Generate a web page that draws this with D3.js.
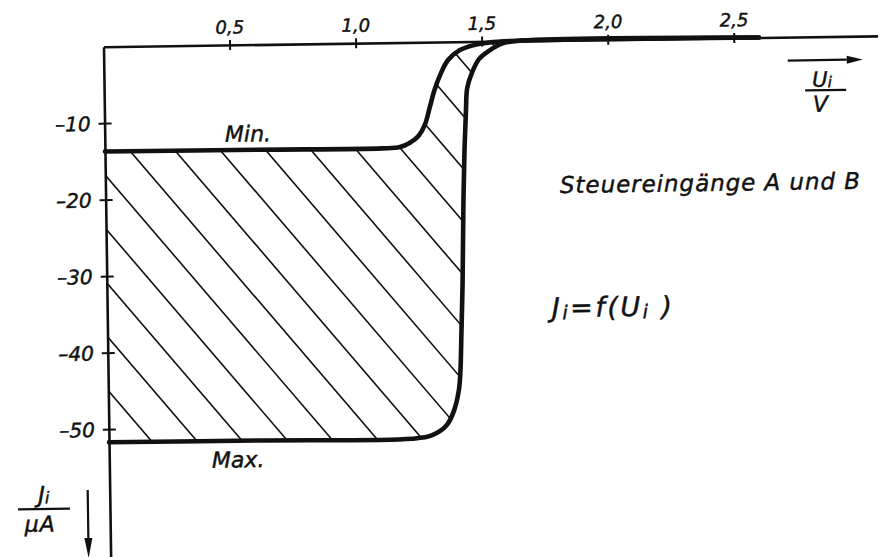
<!DOCTYPE html>
<html>
<head>
<meta charset="utf-8">
<script src="https://cdn.jsdelivr.net/npm/d3@7"></script>
<style>
  html, body { margin: 0; padding: 0; background: #fff; }
  svg { display: block; }
  text { font-family: "DejaVu Sans", sans-serif; font-style: oblique; fill: #111; stroke: #111; stroke-width: 0.45px; }
</style>
</head>
<body>
<svg id="chart" width="888" height="557"></svg>
<script>
// Input current I_i = f(U_i) of control inputs A and B: band between Min. and Max. curves
const minVoltage = [0, 0.6, 1.1, 1.17, 1.21, 1.245, 1.27, 1.29, 1.31, 1.335, 1.365, 1.41, 1.465, 1.53, 1.62, 2.6];
const minCurrent = [-13.7, -13.75, -13.8, -13.65, -13.1, -12.2, -10.8, -8.6, -6.3, -4.2, -2.4, -1.15, -0.5, -0.15, 0, 0];

const maxVoltage = [0, 0.6, 1.2, 1.28, 1.34, 1.37, 1.39, 1.397, 1.404, 1.411, 1.419, 1.426, 1.434, 1.44, 1.46, 1.49, 1.53, 1.58, 1.64, 2.6];
const maxCurrent = [-51.7, -51.75, -51.8, -51.4, -50.1, -48.2, -45.6, -43.4, -37.8, -31.6, -20.8, -14.2, -9.0, -6.1, -4.05, -2.24, -1.21, -0.33, 0, 0];

const xTickValues = [0.5, 1.0, 1.5, 2.0, 2.5];
const yTickValues = [-10, -20, -30, -40, -50];

const labelMin = "Min.";
const labelMax = "Max.";
const titleText = "Steuereingänge A und B";

const ink = "#111";
const svg = d3.select("#chart");
svg.append("rect").attr("width", 888).attr("height", 557).attr("fill", "#fff");

// the sheet sits slightly turned; the whole drawing is laid out in its own frame
const g = svg.append("g").attr("transform", "translate(103.5,46.7) rotate(-0.8)");

const x = d3.scaleLinear().domain([0, 3.07]).range([0, 774]);
const y = d3.scaleLinear().domain([0, -67]).range([0, 512.6]);

const de = d3.formatLocale({ decimal: ",", thousands: ".", grouping: [3], currency: ["", " €"], minus: "–" });
const fx = de.format(".1f");
const fy = de.format("d");

const minPts = minVoltage.map((v, i) => [x(v), y(minCurrent[i])]);
const maxPts = maxVoltage.map((v, i) => [x(v), y(maxCurrent[i])]);

const smooth = d3.curveCatmullRom.alpha(0.5);

// hatched band: hatch clipped under the Max. curve, cleared above the Min. curve
const underArea = d3.area().x(d => d[0]).y0(0).y1(d => d[1]).curve(smooth);
svg.append("defs").append("clipPath").attr("id", "band")
  .append("path").attr("d", underArea(maxPts));

const hatch = g.append("g").attr("clip-path", "url(#band)");
const ang = Math.atan(1.2);
const dir = [Math.cos(ang), Math.sin(ang)];
const nrm = [Math.sin(ang), -Math.cos(ang)];
const anchor = [x(0.1), y(minCurrent[0])];
const c0 = anchor[0] * nrm[0] + anchor[1] * nrm[1];
const gap = 34.5;
const offsets = d3.range(-25, 26).map(k => c0 + k * gap);
hatch.selectAll("line").data(offsets).join("line")
  .attr("x1", c => c * nrm[0] - dir[0] * 1200)
  .attr("y1", c => c * nrm[1] - dir[1] * 1200)
  .attr("x2", c => c * nrm[0] + dir[0] * 1200)
  .attr("y2", c => c * nrm[1] + dir[1] * 1200)
  .attr("stroke", ink).attr("stroke-width", 1.6);

g.append("path").attr("d", underArea(minPts)).attr("fill", "#fff");

// axes
const gx = g.append("g").call(
  d3.axisTop(x).tickValues(xTickValues).tickFormat(fx).tickSizeInner(5).tickSizeOuter(0).tickPadding(7)
);
gx.select(".domain").attr("stroke", ink).attr("stroke-width", 2.6);
gx.selectAll(".tick line").attr("y1", -5).attr("y2", 5).attr("stroke", ink).attr("stroke-width", 2);
gx.selectAll(".tick text").attr("y", -11.5).attr("dy", null).style("font-size", "18px").attr("fill", ink);

const gy = g.append("g").call(
  d3.axisLeft(y).tickValues(yTickValues).tickFormat(fy).tickSizeInner(6).tickSizeOuter(0).tickPadding(9)
);
gy.select(".domain").attr("stroke", ink).attr("stroke-width", 2.6);
gy.selectAll(".tick line").attr("x1", -6).attr("x2", 7).attr("stroke", ink).attr("stroke-width", 2);
gy.selectAll(".tick text").attr("x", -14).attr("dy", "0.36em").style("font-size", "20px").attr("fill", ink);

// Min. and Max. curves
const curve = d3.line().curve(smooth);
[minPts, maxPts].forEach(pts => {
  g.append("path").attr("d", curve(pts))
    .attr("fill", "none").attr("stroke", ink).attr("stroke-width", 4.6)
    .attr("stroke-linejoin", "round").attr("stroke-linecap", "round");
});

g.append("text").attr("x", x(0.477)).attr("y", y(minCurrent[0]) - 8)
  .style("font-size", "22px").text(labelMin);
g.append("text").attr("x", x(0.407)).attr("y", y(maxCurrent[0]) + 27)
  .style("font-size", "22px").text(labelMax);

// descriptive labels
g.append("text").attr("x", 454.5).attr("y", 152.7)
  .attr("textLength", 300).attr("lengthAdjust", "spacing")
  .style("font-size", "23px").text(titleText);

const fn = g.append("text").attr("x", 444.7).attr("y", 276.6)
  .style("font-size", "27px").style("letter-spacing", "2.5px");
fn.append("tspan").text("J");
fn.append("tspan").attr("dy", "0.12em").style("font-size", "19px").text("i");
fn.append("tspan").attr("dy", "-0.08em").text("=f(");
fn.append("tspan").text("U");
fn.append("tspan").attr("dy", "0.12em").style("font-size", "19px").text("i");
fn.append("tspan").attr("dy", "-0.08em").text(" )");

// x quantity: arrow and U_i / V
function arrow(x1, y1, x2, y2, head, half) {
  const a = Math.atan2(y2 - y1, x2 - x1);
  const bx = x2 - head * Math.cos(a), by = y2 - head * Math.sin(a);
  g.append("line").attr("x1", x1).attr("y1", y1).attr("x2", bx).attr("y2", by)
    .attr("stroke", ink).attr("stroke-width", 2.2);
  g.append("path")
    .attr("d", `M${x2},${y2}L${bx - half * Math.sin(a)},${by + half * Math.cos(a)}L${bx + half * Math.sin(a)},${by - half * Math.cos(a)}Z`)
    .attr("fill", ink);
}
arrow(684, 23.4, 759, 23.4, 16, 4);

const ux = g.append("text").attr("x", 718).attr("y", 50).attr("text-anchor", "middle").style("font-size", "21px");
ux.append("tspan").text("U");
ux.append("tspan").attr("dy", "0.05em").style("font-size", "15px").text("i");
g.append("line").attr("x1", 701).attr("x2", 742).attr("y1", 53.5).attr("y2", 53.5)
  .attr("stroke", ink).attr("stroke-width", 2.2);
g.append("text").attr("x", 716).attr("y", 75).attr("text-anchor", "middle")
  .style("font-size", "22px").text("V");

// y quantity: J_i / µA and downward arrow
const jy = g.append("text").attr("x", -66).attr("y", 455).attr("text-anchor", "middle").style("font-size", "23px");
jy.append("tspan").text("J");
jy.append("tspan").attr("dy", "0.05em").style("font-size", "16px").text("i");
g.append("line").attr("x1", -92).attr("x2", -40).attr("y1", 461.5).attr("y2", 461.5)
  .attr("stroke", ink).attr("stroke-width", 2.2);
g.append("text").attr("x", -70).attr("y", 484).attr("text-anchor", "middle")
  .style("font-size", "22px").style("letter-spacing", "1px").text("µA");
arrow(-22, 443, -22, 511, 20, 4);
</script>
</body>
</html>
